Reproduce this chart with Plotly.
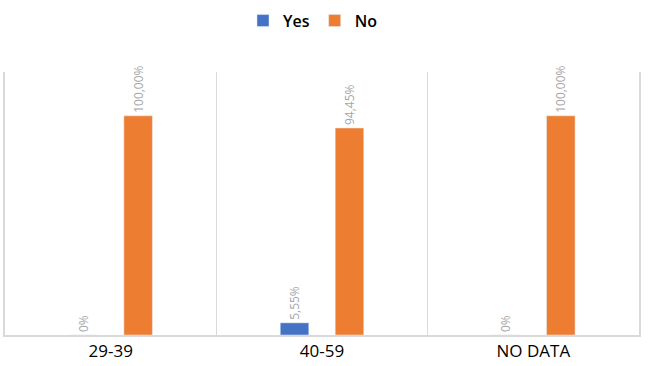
import plotly.graph_objects as go

categories = ["29-39", "40-59", "NO DATA"]
yes_values = [0, 5.55, 0]
no_values = [100, 94.45, 100]
yes_labels = ["0%", "5,55%", "0%"]
no_labels = ["100,00%", "94,45%", "100,00%"]

label_font = dict(color="#A6A6A6", size=12, family="Open Sans")

fig = go.Figure()
fig.add_trace(go.Bar(
    x=categories, y=yes_values, name="Yes", marker_color="#4472C4",
    width=0.135, offset=-0.1975,
    text=yes_labels, textposition="outside", textangle=-90,
    textfont=label_font, constraintext="none",
    cliponaxis=False,
))
fig.add_trace(go.Bar(
    x=categories, y=no_values, name="No", marker_color="#ED7D31",
    width=0.135, offset=0.0625,
    text=no_labels, textposition="outside", textangle=-90,
    textfont=label_font, constraintext="none",
    cliponaxis=False,
))

fig.update_layout(
    width=648, height=366,
    margin=dict(l=5, r=9, t=72, b=31, autoexpand=False),
    plot_bgcolor="white", paper_bgcolor="white",
    barmode="group",
    legend=dict(orientation="h", x=0.485, xanchor="center", y=0.99, yanchor="top",
                yref="container",
                font=dict(family="Open Sans", size=16, color="black", weight=600),
                itemwidth=30, traceorder="normal"),
    showlegend=True,
)
fig.update_xaxes(
    tickson="boundaries", showgrid=True, gridcolor="#D9D9D9", gridwidth=1,
    showline=True, linecolor="#D9D9D9", linewidth=2, ticks="",
    tickfont=dict(family="Open Sans", size=17, color="black"),
    range=[-0.5, 2.5],
)
fig.update_yaxes(range=[0, 120], showgrid=False, showticklabels=False, zeroline=False,
                 showline=True, mirror=True, linecolor="#D9D9D9", linewidth=2)

fig.write_html("out.html", config={"displayModeBar": False},
               post_script="document.body.style.margin='0';")
